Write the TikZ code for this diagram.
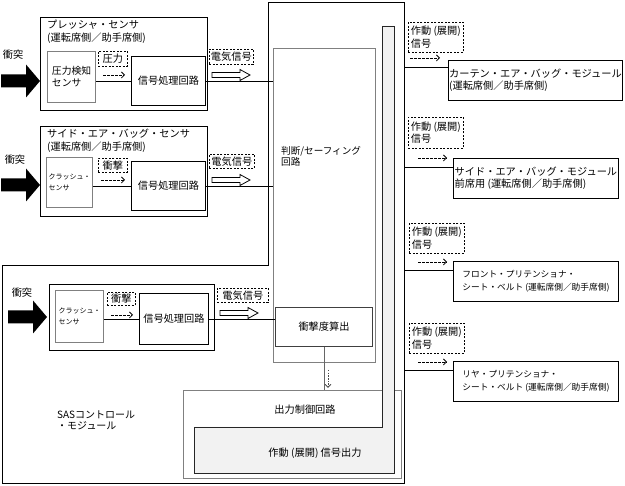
\documentclass[tikz,border=0pt]{standalone}
\usepackage{fontspec}
\setmainfont{Noto Sans CJK JP}
\usetikzlibrary{arrows.meta,calc}
\begin{document}
\begin{tikzpicture}[x=1pt,y=-1pt,
  blk/.style={draw=black,line width=0.9pt,inner sep=0pt,anchor=north west},
  gry/.style={draw=black!50,line width=1.1pt,inner sep=0pt,anchor=north west},
  dbox/.style={draw=black,dash pattern=on 2pt off 1.5pt,line width=0.7pt,inner sep=0pt,anchor=north west},
  darr/.style={dash pattern=on 2.5pt off 1.5pt,line width=0.8pt,-{Straight Barb[length=3pt,width=6pt]}},
  dotarr/.style={black!70,dash pattern=on 1.5pt off 1.2pt,line width=0.9pt,-{Straight Barb[length=3pt,width=6pt]}},
  conn/.style={draw=black,line width=0.8pt},
  fn/.style={font=\fontsize{10.2pt}{12.5pt}\selectfont},
  fk/.style={font=\fontsize{9.8pt}{12pt}\selectfont},
  fs/.style={font=\fontsize{7pt}{11pt}\selectfont},
  fm/.style={font=\fontsize{8.7pt}{12.5pt}\selectfont},
  lbl/.style={inner sep=0pt,align=left,anchor=north west},
  hollowarr/.pic={\draw[line width=0.8pt,fill=white] (0,-2.5) -- (28,-2.5) -- (28,-5.5) -- (38,0) -- (28,5.5) -- (28,2.5) -- (0,2.5) -- cycle;},
  bigarr/.pic={\fill[black] (-39,-6.5) -- (-14,-6.5) -- (-14,-16.5) -- (0,0) -- (-14,16.5) -- (-14,6.5) -- (-39,6.5) -- cycle;}
]
\useasboundingbox (0,0) rectangle (625,486);
\fill[white] (0,0) rectangle (625,486);

% outer SAS control module outline
\draw[line width=0.9pt] (2,265) -- (268,265) -- (268,2) -- (404,2) -- (404,483) -- (2,483) -- cycle;
\node[lbl,font=\fontsize{10pt}{11pt}\selectfont] (sas) at (57,411) {SASコントロール\\・モジュール};

% ---- group 1: pressure sensor
\node[blk,minimum width=167,minimum height=93] (g1) at (40,17) {};
\node[lbl,fn] (g1t) at (47,20) {プレッシャ・センサ\\(運転席側／助手席側)};
\node[gry,minimum width=48,minimum height=51,align=left,fk] (s1) at (47,51) {圧力検知\\センサ};
\node[dbox,minimum width=29,minimum height=15,fn] (p1) at (98,51) {圧力};
\draw[darr] (103,75) -- (125,75);
\node[blk,minimum width=74,minimum height=49,fn] (c1) at (131,56) {信号処理回路};
\draw[conn] (s1.east |- c1.west) -- (c1.west);
\node[dbox,minimum width=44,minimum height=15,fn] (e1) at (209,49) {電気信号};
\pic at (212,75) {hollowarr};
\pic at (40,81) {bigarr};
\node[fn,inner sep=0pt] (k1) at (13,55) {衝突};

% ---- group 2: side air bag sensor
\node[blk,minimum width=167,minimum height=90] (g2) at (40,126) {};
\node[lbl,fn] (g2t) at (47,129) {サイド・エア・バッグ・センサ\\(運転席側／助手席側)};
\node[gry,minimum width=46,minimum height=50,align=left,fs] (s2) at (46,157) {クラッシュ・\\センサ};
\node[dbox,minimum width=29,minimum height=14,fn] (p2) at (98,158) {衝撃};
\draw[darr] (101,180) -- (125,180);
\node[blk,minimum width=74,minimum height=49,fn] (c2) at (131,161) {信号処理回路};
\draw[conn] (s2.east |- c2.west) -- (c2.west);
\node[dbox,minimum width=45,minimum height=14,fn] (e2) at (209,154) {電気信号};
\pic at (212,180) {hollowarr};
\pic at (40,185) {bigarr};
\node[fn,inner sep=0pt] (k2) at (15,160) {衝突};

% ---- group 3: front crash sensor (inside SAS)
\node[blk,minimum width=165,minimum height=66] (g3) at (49,284) {};
\node[gry,minimum width=48,minimum height=52,align=left,fs] (s3) at (55,290) {クラッシュ・\\センサ};
\node[dbox,minimum width=28,minimum height=13,fn] (p3) at (107,292) {衝撃};
\draw[darr] (111,315) -- (133,315);
\node[blk,minimum width=69,minimum height=51,fn] (c3) at (139,293) {信号処理回路};
\draw[conn] (s3.east |- c3.west) -- (c3.west);
\node[dbox,minimum width=51,minimum height=14,fn] (e3) at (217,288) {電気信号};
\pic at (220,313) {hollowarr};
\pic at (47,317) {bigarr};
\node[fn,inner sep=0pt] (k3) at (22,293) {衝突};

% ---- judgement / safing circuit
\node[gry,line width=1.4pt,minimum width=102,minimum height=314] (jd) at (273,48) {};
\node[lbl,font=\fontsize{9.6pt}{11pt}\selectfont] (jdt) at (281,146) {判断/セーフィング\\回路};

% ---- output control circuit and actuation output
\node[gry,minimum width=218,minimum height=88] (ob) at (183,390) {};
\node[fn,inner sep=0pt] (obt) at (305,410) {出力制御回路};
\draw[draw=black!85,line width=0.9pt,fill=black!5] (382,26) -- (394,26) -- (394,473) -- (194,473) -- (194,427) -- (382,427) -- cycle;
\node[fn,inner sep=0pt] (act) at (315,453) {作動 (展開) 信号出力};

% ---- impact severity
\node[draw=black!75,line width=1pt,inner sep=0pt,anchor=north west,minimum width=97,minimum height=39,fn] (im) at (275,307) {衝撃度算出};

% connectors
\draw[conn] (c1.east) -- (c1.east -| jd.west);
\draw[conn] (c2.east) -- (c2.east -| jd.west);
\draw[conn] (c3.east) -- (c3.east -| im.west);
\draw[black!60,line width=0.8pt] (im.south) -- (im.south |- ob.north);
\draw[dotarr] ($(im.south)+(4,23)$) -- ($(im.south |- ob.north)+(4,-2)$);

% ---- output modules
\coordinate (b1) at (404,67);
\coordinate (b2) at (404,167);
\coordinate (b3) at (404,270);
\coordinate (b4) at (404,370);

\node[dbox,minimum width=55,minimum height=30,align=left,fn] (d1) at (408,22) {作動 (展開)\\信号};
\draw[darr] (410,58) -- (440,58);
\node[blk,minimum width=174,minimum height=40,align=left,fn] (m1) at (448,60) {カーテン・エア・バッグ・モジュール\\(運転席側／助手席側)};
\draw[conn] (b1) -- (b1 -| m1.west);

\node[dbox,minimum width=55,minimum height=31,align=left,fn] (d2) at (408,117) {作動 (展開)\\信号};
\draw[darr] (418,158) -- (447,158);
\node[blk,minimum width=165,minimum height=40,align=left,fn] (m2) at (453,158) {サイド・エア・バッグ・モジュール\\前席用 (運転席側／助手席側)};
\draw[conn] (b2) -- (b2 -| m2.west);

\node[dbox,minimum width=55,minimum height=30,align=left,fn] (d3) at (409,223) {作動 (展開)\\信号};
\draw[darr] (418,262) -- (447,262);
\node[blk,minimum width=165,minimum height=40,align=left,fm] (m3) at (453,261) {フロント・プリテンショナ・\\シート・ベルト (運転席側／助手席側)};
\draw[conn] (b3) -- (b3 -| m3.west);

\node[dbox,minimum width=55,minimum height=30,align=left,fn] (d4) at (409,323) {作動 (展開)\\信号};
\draw[darr] (418,362) -- (447,362);
\node[blk,minimum width=165,minimum height=40,align=left,fm] (m4) at (453,361) {リヤ・プリテンショナ・\\シート・ベルト (運転席側／助手席側)};
\draw[conn] (b4) -- (b4 -| m4.west);
\end{tikzpicture}
\end{document}
